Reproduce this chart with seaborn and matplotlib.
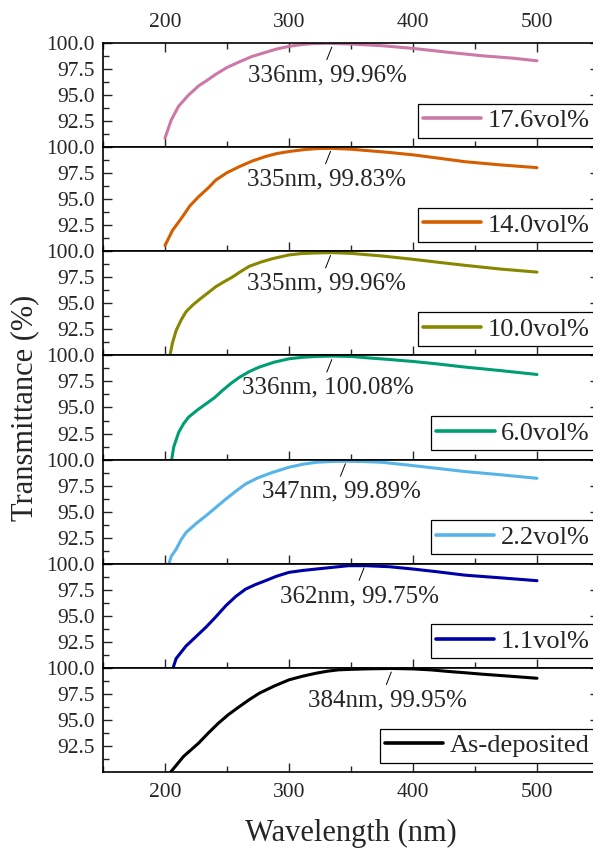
import matplotlib
matplotlib.use("Agg")
import matplotlib.pyplot as plt
from matplotlib.ticker import MultipleLocator, FixedLocator, FormatStrFormatter
import seaborn as sns

# Muestras, de arriba hacia abajo
etiquetas = ["17.6vol%", "14.0vol%", "10.0vol%", "6.0vol%", "2.2vol%", "1.1vol%", "As-deposited"]
colores = ["#CC79A7", "#D55E00", "#878700", "#009E73", "#56B4E9", "#0000A8", "#000000"]

# Máximos de transmitancia anotados
pico_nm = [336, 335, 335, 336, 347, 362, 384]
pico_t = [99.96, 99.83, 99.96, 100.08, 99.89, 99.75, 99.95]

# Curvas (longitud de onda en nm, transmitancia en %)
wl_176 = [200, 205, 211, 219, 227, 235, 241, 250, 260, 270, 281, 290, 300, 310, 319, 332, 350, 375, 400, 429, 456, 480, 500]
t_176 = [90.87, 92.6, 93.94, 95.0, 95.87, 96.5, 97.0, 97.65, 98.19, 98.7, 99.1, 99.42, 99.68, 99.85, 99.94, 99.97, 99.9, 99.74, 99.48, 99.1, 98.77, 98.55, 98.29]

wl_140 = [200, 206, 214, 220, 227, 235, 241, 250, 260, 270, 281, 290, 300, 312, 324, 335, 350, 362, 380, 400, 420, 442, 470, 500]
t_140 = [90.55, 92.0, 93.3, 94.35, 95.23, 96.1, 96.84, 97.55, 98.13, 98.65, 99.1, 99.38, 99.58, 99.76, 99.87, 99.88, 99.8, 99.68, 99.5, 99.26, 98.95, 98.6, 98.3, 98.03]

wl_100 = [204, 206, 209, 213, 217, 222, 227, 234, 241, 248, 254, 261, 268, 277, 287, 300, 310, 322, 335, 350, 375, 400, 420, 442, 470, 500]
t_100 = [90.0, 91.2, 92.4, 93.4, 94.2, 94.8, 95.3, 95.95, 96.6, 97.1, 97.5, 98.05, 98.56, 98.95, 99.3, 99.65, 99.78, 99.84, 99.87, 99.8, 99.55, 99.23, 98.95, 98.65, 98.3, 98.0]

wl_60 = [205.4, 207, 211, 215, 219, 226, 233, 240, 246, 253, 260, 268, 276, 288, 300, 311, 322, 335, 350, 362, 380, 400, 420, 442, 470, 500]
t_60 = [90.0, 91.2, 92.6, 93.45, 94.07, 94.75, 95.35, 95.95, 96.6, 97.3, 97.9, 98.45, 98.88, 99.35, 99.68, 99.82, 99.9, 99.94, 99.9, 99.78, 99.62, 99.42, 99.18, 98.88, 98.55, 98.17]

wl_22 = [203.2, 205, 209, 213, 217, 225, 233, 241, 249, 257, 265, 275, 287, 300, 311, 322, 335, 348, 362, 375, 400, 420, 442, 470, 500]
t_22 = [90.0, 90.7, 91.4, 92.3, 93.0, 93.85, 94.6, 95.4, 96.2, 96.95, 97.66, 98.25, 98.78, 99.26, 99.55, 99.74, 99.82, 99.84, 99.8, 99.74, 99.42, 99.15, 98.85, 98.55, 98.2]

wl_11 = [206.5, 209, 213, 217, 225, 233, 241, 249, 257, 265, 273, 281, 290, 300, 311, 322, 335, 348, 362, 381, 400, 420, 442, 470, 500]
t_11 = [90.0, 90.9, 91.5, 92.1, 93.0, 93.9, 94.9, 95.96, 96.85, 97.56, 98.0, 98.37, 98.8, 99.17, 99.35, 99.49, 99.65, 99.81, 99.81, 99.71, 99.49, 99.22, 98.9, 98.65, 98.37]

wl_dep = [204.6, 215, 227, 235, 243, 251, 260, 268, 276, 288, 300, 311, 322, 331, 340, 351, 362, 372, 383, 400, 415, 429, 443, 456, 478, 500]
t_dep = [90.0, 91.5, 92.76, 93.75, 94.68, 95.5, 96.28, 96.95, 97.56, 98.25, 98.85, 99.2, 99.49, 99.68, 99.81, 99.86, 99.9, 99.92, 99.94, 99.9, 99.8, 99.65, 99.52, 99.39, 99.2, 99.0]

curvas = [(wl_176, t_176), (wl_140, t_140), (wl_100, t_100), (wl_60, t_60),
          (wl_22, t_22), (wl_11, t_11), (wl_dep, t_dep)]

# Estilo
sns.set_style("ticks")
plt.rcParams['font.family'] = ['Liberation Serif', 'DejaVu Serif']

fig, axes = plt.subplots(7, 1, sharex=True, figsize=(5.93, 8.49), dpi=100)
fig.subplots_adjust(left=103 / 593, right=599 / 593, top=1 - 43 / 849, bottom=1 - 772 / 849, hspace=0)

for i, ax in enumerate(axes):
    wl, t = curvas[i]
    sns.lineplot(x=wl, y=t, ax=ax, color=colores[i], linewidth=2.2, label=etiquetas[i])

    ax.set_xlim(150, 550)
    ax.set_ylim(90, 100)
    ax.xaxis.set_major_locator(MultipleLocator(100))
    ax.xaxis.set_minor_locator(MultipleLocator(50))
    ax.yaxis.set_major_locator(FixedLocator([92.5, 95.0, 97.5, 100.0]))
    ax.yaxis.set_minor_locator(FixedLocator([91.25, 93.75, 96.25, 98.75]))
    ax.yaxis.set_major_formatter(FormatStrFormatter('%.1f'))

    ax.tick_params(axis='both', which='both', direction='in', width=1.0, labelsize=15.5)
    ax.tick_params(axis='both', which='major', length=6.5)
    ax.tick_params(axis='both', which='minor', length=4)
    ax.tick_params(axis='y', which='both', left=True, right=True, pad=6)
    ax.tick_params(axis='x', which='both', bottom=True, top=(i == 0),
                   labeltop=(i == 0), labelbottom=(i == 6), pad=8)

    for s in ax.spines.values():
        s.set_linewidth(1.2)
        s.set_color('black')
    # el borde derecho queda fuera de la imagen original
    ax.spines['right'].set_visible(False)

    # Anotación del máximo
    p = pico_nm[i]
    ax.plot([p - 1.5, p - 5.5], [99.6, 98.4], color='black', linewidth=0.7)
    ax.text(p - 5, 96.9, f"{p}nm, {pico_t[i]:.2f}%", ha='center', va='center', fontsize=18)

    leg = ax.legend(loc='lower right', bbox_to_anchor=(0.992, 0.09), borderaxespad=0,
                    fontsize=19, handlelength=2.2, handletextpad=0.25, borderpad=0.2,
                    fancybox=False, framealpha=1, edgecolor='black')
    leg.get_frame().set_linewidth(0.9)
    for h in leg.get_lines():
        h.set_linewidth(2.6)

    ax.set_xlabel('')
    ax.set_ylabel('')

fig.text(351 / 593, 1 - 833 / 849, 'Wavelength (nm)', ha='center', va='center', fontsize=22)
fig.text(25 / 593, 1 - 408 / 849, 'Transmittance (%)', ha='center', va='center',
         rotation=90, fontsize=22)

fig.savefig('out.png', dpi=100)
